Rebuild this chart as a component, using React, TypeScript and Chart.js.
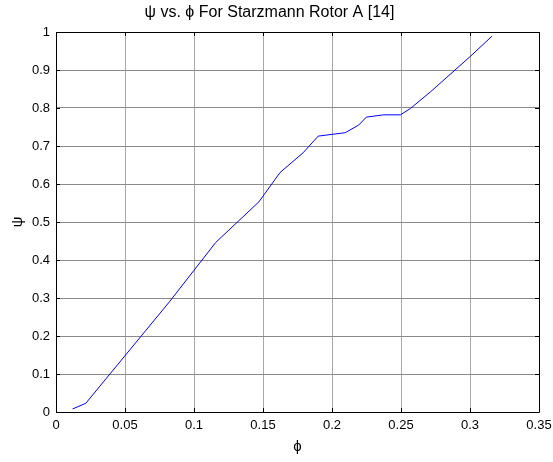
import React, { useEffect, useRef } from "react";
import { Chart, registerables } from "chart.js";

Chart.register(...registerables);

const phiValues = [0.012, 0.0216, 0.0822, 0.1157, 0.147, 0.1623, 0.179, 0.19, 0.2096, 0.2193, 0.2249, 0.2375, 0.2496, 0.2569, 0.2715, 0.3006, 0.3159];
const psiValues = [0.008, 0.023, 0.29, 0.446, 0.553, 0.63, 0.682, 0.726, 0.735, 0.755, 0.776, 0.782, 0.782, 0.799, 0.843, 0.937, 0.989];
const xTicks = [0, 0.05, 0.1, 0.15, 0.2, 0.25, 0.3, 0.35];
const yTicks = [0, 0.1, 0.2, 0.3, 0.4, 0.5, 0.6, 0.7, 0.8, 0.9, 1];
const titleText = "ψ vs. ϕ For Starzmann Rotor A [14]";
const xLabel = "ϕ";
const yLabel = "ψ";

const FONT = "Arial, 'Liberation Sans', sans-serif";

const framePlugin = {
  id: "frame",
  afterDatasetsDraw(chart: any) {
    const { ctx, chartArea: a, scales } = chart;
    ctx.save();
    ctx.strokeStyle = "#000";
    ctx.lineWidth = 1;
    ctx.beginPath();
    ctx.rect(Math.round(a.left) + 0.5, Math.round(a.top) + 0.5, Math.round(a.right - a.left), Math.round(a.bottom - a.top));
    ctx.stroke();
    const tl = 4;
    ctx.beginPath();
    for (const v of xTicks) {
      const x = Math.round(scales.x.getPixelForValue(v)) + 0.5;
      ctx.moveTo(x, a.bottom);
      ctx.lineTo(x, a.bottom - tl);
      ctx.moveTo(x, a.top);
      ctx.lineTo(x, a.top + tl);
    }
    for (const v of yTicks) {
      const y = Math.round(scales.y.getPixelForValue(v)) + 0.5;
      ctx.moveTo(a.left, y);
      ctx.lineTo(a.left + tl, y);
      ctx.moveTo(a.right, y);
      ctx.lineTo(a.right - tl, y);
    }
    ctx.stroke();
    ctx.restore();
  },
};

export default function App() {
  const ref = useRef<HTMLCanvasElement>(null);
  useEffect(() => {
    const chart = new Chart(ref.current!, {
      type: "line",
      data: {
        datasets: [
          {
            data: phiValues.map((x, i) => ({ x, y: psiValues[i] })),
            borderColor: "#0000ff",
            borderWidth: 1,
            pointRadius: 0,
            tension: 0,
            fill: false,
          },
        ],
      },
      options: {
        responsive: false,
        animation: false,
        events: [],
        layout: { padding: { left: 0, right: 14, top: 0, bottom: 0 } },
        plugins: {
          legend: { display: false },
          tooltip: { enabled: false },
          title: {
            display: true,
            text: titleText,
            color: "#000",
            font: { family: FONT, size: 16, weight: "normal" },
            padding: { top: 3, bottom: 9.8 },
          },
        },
        scales: {
          x: {
            type: "linear",
            min: 0,
            max: 0.35,
            afterBuildTicks: (s: any) => {
              s.ticks = xTicks.map((v) => ({ value: v }));
            },
            afterFit: (s: any) => {
              s.height = 50;
              s.paddingLeft = 0;
              s.paddingRight = 0;
            },
            ticks: {
              color: "#000",
              font: { family: FONT, size: 13 },
              padding: 6,
              maxRotation: 0,
              callback: (v: any) => String(Number(v)),
            },
            grid: { color: "#a8a8a8", drawTicks: false },
            border: { display: false },
            title: {
              display: true,
              text: xLabel,
              color: "#000",
              font: { family: FONT, size: 15 },
              padding: { top: 0, bottom: 6 },
            },
          },
          y: {
            type: "linear",
            min: 0,
            max: 1,
            afterBuildTicks: (s: any) => {
              s.ticks = yTicks.map((v) => ({ value: v }));
            },
            afterFit: (s: any) => {
              s.width = 56;
              s.paddingTop = 0;
              s.paddingBottom = 0;
            },
            ticks: {
              color: "#000",
              font: { family: FONT, size: 13 },
              padding: 6,
              callback: (v: any) => String(Number(v)),
            },
            grid: { color: "#8a8a8a", drawTicks: false },
            border: { display: false },
            title: {
              display: true,
              text: yLabel,
              color: "#000",
              font: { family: FONT, size: 15 },
              padding: { top: 9, bottom: 0 },
            },
          },
        },
      },
      plugins: [framePlugin],
    } as any);
    return () => chart.destroy();
  }, []);
  return (
    <div style={{ position: "fixed", left: 0, top: 0, width: 553, height: 462, background: "#fff" }}>
      <canvas ref={ref} width={553} height={462} style={{ display: "block" }} />
    </div>
  );
}
